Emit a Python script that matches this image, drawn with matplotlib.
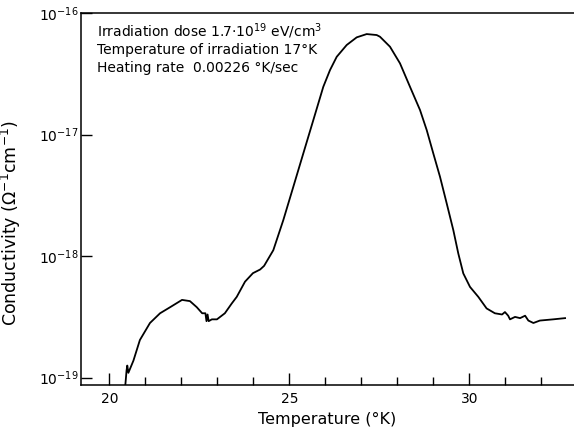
import numpy as np
import matplotlib
matplotlib.use("Agg")
import matplotlib.pyplot as plt

#------------- DATA -------------#
# temperature in K
temp_K = [20.44, 20.48, 20.50, 20.53, 20.67, 20.85, 21.13, 21.41, 21.69, 22.02,
          22.24, 22.43, 22.58, 22.67, 22.70, 22.73, 22.76, 22.85, 22.99, 23.21,
          23.40, 23.54, 23.77, 23.99, 24.19, 24.30, 24.556, 24.833, 25.111, 25.389,
          25.667, 25.944, 26.131, 26.317, 26.594, 26.872, 27.15, 27.428, 27.519, 27.797,
          28.075, 28.353, 28.631, 28.817, 29.0, 29.186, 29.372, 29.556, 29.694, 29.833,
          30.019, 30.25, 30.48, 30.71, 30.91, 30.99, 31.08, 31.13, 31.27, 31.41,
          31.55, 31.64, 31.78, 31.96, 32.33, 32.66]
# log10 of conductivity (ohm^-1 cm^-1)
log_sigma = [-19.08, -18.94, -18.90, -18.96, -18.86, -18.69, -18.55, -18.47, -18.42, -18.36,
             -18.37, -18.42, -18.47, -18.47, -18.535, -18.48, -18.535, -18.52, -18.52, -18.47,
             -18.39, -18.335, -18.21, -18.14, -18.11, -18.08, -17.951, -17.704, -17.43, -17.155,
             -16.881, -16.607, -16.469, -16.36, -16.263, -16.20, -16.173, -16.181, -16.195, -16.277,
             -16.414, -16.607, -16.798, -16.963, -17.155, -17.347, -17.566, -17.786, -17.978, -18.142,
             -18.253, -18.335, -18.43, -18.47, -18.48, -18.46, -18.49, -18.52, -18.50, -18.51,
             -18.49, -18.53, -18.55, -18.53, -18.52, -18.51]

x_major = [20, 25, 30]
x_minor = list(range(21, 33))
y_major = [1e-19, 1e-18, 1e-17, 1e-16]

notes = [r"Irradiation dose 1.7$\cdot$10$^{19}$ eV/cm$^3$",
         r"Temperature of irradiation 17°K",
         r"Heating rate  0.00226 °K/sec"]

#------------- PLOT -------------#
plt.rcParams["font.family"] = ["DejaVu Sans"]
plt.rcParams["mathtext.default"] = "regular"

fig = plt.figure(figsize=(5.74, 4.29), dpi=100)
ax = fig.add_axes([0.1411, 0.1026, 0.8589, 0.867])

sigma = np.power(10.0, np.array(log_sigma))
ax.plot(temp_K, sigma, color="black", lw=1.3, solid_joinstyle="round")

ax.set_yscale("log")
ax.set_xlim(19.214, 32.908)
ax.set_ylim(10 ** -19.06, 1e-16)

ax.set_xticks(x_major)
ax.set_xticks(x_minor, minor=True)
ax.set_yticks(y_major)
ax.yaxis.set_minor_locator(matplotlib.ticker.NullLocator())

ax.tick_params(axis="x", which="major", direction="in", length=9, width=1.0,
               labelsize=10, pad=5)
ax.tick_params(axis="x", which="minor", direction="in", length=6, width=1.0)
ax.tick_params(axis="y", which="major", direction="in", length=8, width=1.0,
               labelsize=10, pad=2)

ax.spines["right"].set_visible(False)
for s in ["left", "bottom", "top"]:
    ax.spines[s].set_linewidth(1.1)

ax.set_xlabel("Temperature (°K)", fontsize=11.5, labelpad=4)
ax.set_ylabel(r"Conductivity (Ω$^{-1}$cm$^{-1}$)", fontsize=12.5)
ax.yaxis.set_label_coords(-0.118, 0.435)

for i, line in enumerate(notes):
    ax.text(0.032, 0.95 - i * 0.049, line, transform=ax.transAxes,
            fontsize=10, va="center", ha="left")

fig.savefig("out.png", dpi=100)
